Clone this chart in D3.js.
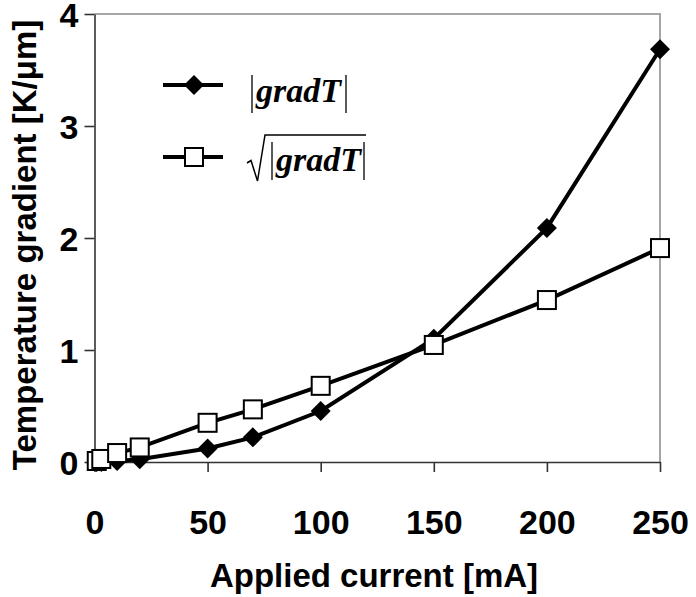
<!DOCTYPE html>
<html>
<head>
<meta charset="utf-8">
<script src="https://cdn.jsdelivr.net/npm/d3@7"></script>
<style>
  body { margin: 0; background: #fff; }
  svg { display: block; }
  .axis text { font-family: "Liberation Sans", Arial, sans-serif; font-weight: bold; font-size: 34px; fill: #000; }
  .title { font-family: "Liberation Sans", Arial, sans-serif; font-weight: bold; font-size: 33px; fill: #000; }
  .leg { font-family: "Liberation Serif", "Times New Roman", serif; font-weight: bold; font-style: italic; font-size: 34px; fill: #000; }
</style>
</head>
<body>
<div id="chart"></div>
<script>
// applied current [mA]
const currents = [1, 3, 10, 20, 50, 70, 100, 150, 200, 250];
// |gradT| [K/um]
const gradT = [0, 0, 0.01, 0.025, 0.12, 0.22, 0.455, 1.1, 2.09, 3.685];
// sqrt(|gradT|)
const sqrtGradT = [0.009, 0.027, 0.08, 0.13, 0.35, 0.47, 0.68, 1.045, 1.446, 1.91];
const xTicks = [0, 50, 100, 150, 200, 250];
const yTicks = [0, 1, 2, 3, 4];

const W = 696, H = 597;
const margin = { top: 14, right: 36, bottom: 135, left: 94.5 };
const width = W - margin.left - margin.right;
const height = H - margin.top - margin.bottom;

const svg = d3.select('#chart').append('svg').attr('width', W).attr('height', H);
const plot = svg.append('g').attr('transform', `translate(${margin.left},${margin.top})`);

const x = d3.scaleLinear().domain([0, 250]).range([0, width]);
const y = d3.scaleLinear().domain([0, 4]).range([height, 0]);

// plot area frame (top and right), light grey
plot.append('path')
  .attr('d', `M0,0H${width}V${height}`)
  .attr('fill', 'none').attr('stroke', '#a6a6a6').attr('stroke-width', 2);

const xAxis = plot.append('g').attr('class', 'axis')
  .attr('transform', `translate(0,${height})`)
  .call(d3.axisBottom(x).tickValues(xTicks).tickFormat(d3.format('d')).tickSize(10).tickSizeOuter(0));

const yAxis = plot.append('g').attr('class', 'axis')
  .call(d3.axisLeft(y).tickValues(yTicks).tickFormat(d3.format('d')).tickSize(10).tickPadding(6).tickSizeOuter(0));

[xAxis, yAxis].forEach(a => {
  a.select('.domain').attr('stroke', '#333').attr('stroke-width', 1.6);
  a.selectAll('.tick line').attr('stroke', '#333').attr('stroke-width', 1.6);
});
xAxis.selectAll('.tick text').attr('dy', '0.35em').attr('y', 60);
yAxis.selectAll('.tick text').attr('dy', '0.38em');

const rows = currents.map((c, i) => ({ c, g: gradT[i], s: sqrtGradT[i] }));

const lineG = d3.line().x(d => x(d.c)).y(d => y(d.g));
const lineS = d3.line().x(d => x(d.c)).y(d => y(d.s));

const diamond = r => `M0,${-r}L${r},0L0,${r}L${-r},0Z`;

plot.append('path').datum(rows).attr('d', lineG)
  .attr('fill', 'none').attr('stroke', '#000').attr('stroke-width', 4);
plot.selectAll('path.dia').data(rows).join('path').attr('class', 'dia')
  .attr('transform', d => `translate(${x(d.c)},${y(d.g)})`)
  .attr('d', diamond(10)).attr('fill', '#000');

plot.append('path').datum(rows).attr('d', lineS)
  .attr('fill', 'none').attr('stroke', '#000').attr('stroke-width', 4);
plot.selectAll('rect.sq').data(rows).join('rect').attr('class', 'sq')
  .attr('x', d => x(d.c) - 9).attr('y', d => y(d.s) - 9)
  .attr('width', 18).attr('height', 18)
  .attr('fill', '#fff').attr('stroke', '#000').attr('stroke-width', 2);

// axis titles
svg.append('text').attr('class', 'title')
  .attr('x', 374).attr('y', 587).attr('text-anchor', 'middle')
  .text('Applied current [mA]');
svg.append('text').attr('class', 'title')
  .attr('transform', 'translate(36,245) rotate(-90)').attr('text-anchor', 'middle')
  .text('Temperature gradient [K/μm]');

// legend
const leg = svg.append('g');
leg.append('line').attr('x1', 163).attr('x2', 223).attr('y1', 85).attr('y2', 85)
  .attr('stroke', '#000').attr('stroke-width', 4);
leg.append('path').attr('transform', 'translate(194,85)').attr('d', diamond(10)).attr('fill', '#000');
leg.append('line').attr('x1', 252).attr('x2', 252).attr('y1', 75).attr('y2', 113).attr('stroke', '#000').attr('stroke-width', 1.3);
leg.append('text').attr('class', 'leg').attr('x', 256).attr('y', 102).text('gradT');
leg.append('line').attr('x1', 346).attr('x2', 346).attr('y1', 75).attr('y2', 113).attr('stroke', '#000').attr('stroke-width', 1.3);

leg.append('line').attr('x1', 163).attr('x2', 223).attr('y1', 157).attr('y2', 157)
  .attr('stroke', '#000').attr('stroke-width', 4);
leg.append('rect').attr('x', 185).attr('y', 148).attr('width', 18).attr('height', 18)
  .attr('fill', '#fff').attr('stroke', '#000').attr('stroke-width', 2);
leg.append('path').attr('d', 'M247,163L251,160.5L257.5,181L265,135H366')
  .attr('fill', 'none').attr('stroke', '#000').attr('stroke-width', 1.5);
leg.append('line').attr('x1', 272).attr('x2', 272).attr('y1', 142).attr('y2', 180).attr('stroke', '#000').attr('stroke-width', 1.3);
leg.append('text').attr('class', 'leg').attr('x', 276).attr('y', 171).text('gradT');
leg.append('line').attr('x1', 364).attr('x2', 364).attr('y1', 142).attr('y2', 180).attr('stroke', '#000').attr('stroke-width', 1.3);
</script>
</body>
</html>
